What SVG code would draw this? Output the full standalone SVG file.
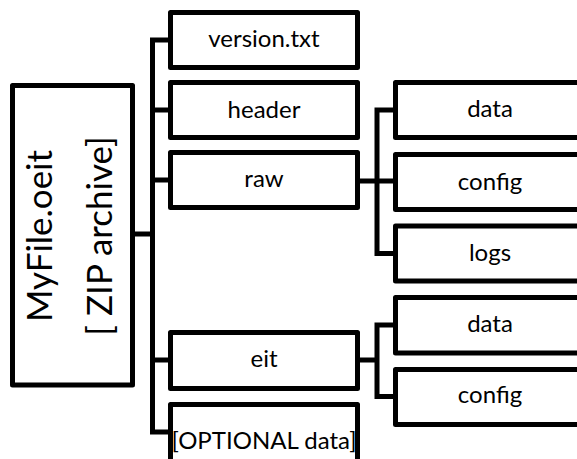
<svg xmlns="http://www.w3.org/2000/svg" width="577" height="459" viewBox="0 0 577 459">
<style>
  .box { fill: #fff; stroke: #000; stroke-width: 5; stroke-linejoin: round; }
  .ln { fill: none; stroke: #000; stroke-width: 5; stroke-linejoin: miter; stroke-linecap: butt; }
  text { font-family: Lato, "Open Sans", "Liberation Sans", sans-serif; fill: #000; }
  .lbl { font-size: 24px; text-anchor: middle; }
  .big { font-size: 35px; text-anchor: middle; }
</style>
<rect width="577" height="459" fill="#fff"/>
<g id="connectors">
  <path class="ln" d="M170.5,40 H152.5 V432 H170.5"/>
  <path class="ln" d="M152.5,110 H170.5 M152.5,180 H170.5 M152.5,360 H170.5 M132.5,234 H152.5"/>
  <path class="ln" d="M395.5,110 H377 V253.5 H395.5 M357.5,181 H395.5"/>
  <path class="ln" d="M395.5,325 H377 V396.5 H395.5 M357.5,360 H377"/>
</g>
<g id="main">
  <rect class="box" x="12.5" y="85.5" width="120" height="299.5"/>
  <text class="big" transform="translate(52,236) rotate(-90)">MyFile.oeit</text>
  <text class="big" transform="translate(112,236) rotate(-90)">[ ZIP archive]</text>
</g>
<g id="version">
  <rect class="box" x="170.5" y="12.5" width="187" height="55"/>
  <text class="lbl" x="264" y="47">version.txt</text>
</g>
<g id="header">
  <rect class="box" x="170.5" y="82.5" width="187" height="55"/>
  <text class="lbl" x="264" y="118">header</text>
</g>
<g id="raw">
  <rect class="box" x="170.5" y="152.5" width="187" height="55"/>
  <text class="lbl" x="264" y="187">raw</text>
</g>
<g id="eit">
  <rect class="box" x="170.5" y="332.5" width="187" height="56"/>
  <text class="lbl" x="264" y="367">eit</text>
</g>
<g id="optional">
  <rect class="box" x="170.5" y="404.5" width="187" height="60"/>
  <text class="lbl" x="264" y="449">[OPTIONAL data]</text>
</g>
<g id="raw-data">
  <rect class="box" x="395.5" y="82.5" width="190" height="55"/>
  <text class="lbl" x="490" y="117">data</text>
</g>
<g id="raw-config">
  <rect class="box" x="395.5" y="154.5" width="190" height="55"/>
  <text class="lbl" x="490" y="190">config</text>
</g>
<g id="raw-logs">
  <rect class="box" x="395.5" y="226" width="190" height="55"/>
  <text class="lbl" x="490" y="261">logs</text>
</g>
<g id="eit-data">
  <rect class="box" x="395.5" y="297.5" width="190" height="55.5"/>
  <text class="lbl" x="490" y="332">data</text>
</g>
<g id="eit-config">
  <rect class="box" x="395.5" y="369.5" width="190" height="55"/>
  <text class="lbl" x="490" y="403">config</text>
</g>
</svg>
